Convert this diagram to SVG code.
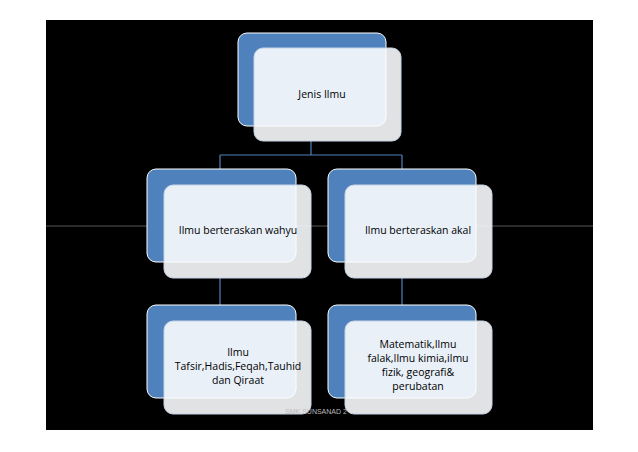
<svg xmlns="http://www.w3.org/2000/svg" width="638" height="452" viewBox="0 0 638 452">
<style>
.b{fill:#4f81bd;stroke:#fff;stroke-width:1}
.f{fill:#fdfeff;fill-opacity:0.89;stroke:#c5d3e6;stroke-width:1}
.t{font-family:"Open Sans","Liberation Sans",sans-serif;font-size:10.5px;fill:#000;text-anchor:middle}
.c{stroke:#4f81bd;stroke-width:1.2;fill:none}
</style>
<rect width="638" height="452" fill="#fff"/>
<rect x="46" y="20" width="547" height="410" fill="#000"/>
<line x1="46" y1="226" x2="593" y2="226" stroke="#555" stroke-width="1"/>
<g id="connectors">
<path class="c" d="M311 141V155M220 155H402M220 155V169M402 155V169M220 278V305M402 278V305"/>
</g>
<g id="n1"><rect class="b" x="238" y="33" width="148" height="93" rx="9"/><rect class="f" x="254" y="48" width="147" height="93" rx="9"/><text class="t" x="322" y="98">Jenis Ilmu</text></g>
<g id="n2"><rect class="b" x="147" y="169" width="149" height="93" rx="9"/><rect class="f" x="164" y="185" width="147" height="93" rx="9"/><text class="t" x="238" y="234">Ilmu berteraskan wahyu</text></g>
<g id="n3"><rect class="b" x="328" y="169" width="148" height="93" rx="9"/><rect class="f" x="345" y="185" width="147" height="93" rx="9"/><text class="t" x="418" y="234">Ilmu berteraskan akal</text></g>
<g id="n4"><rect class="b" x="147" y="305" width="149" height="93" rx="9"/><rect class="f" x="164" y="321" width="147" height="93" rx="9"/><text class="t" x="238" y="356">Ilmu</text><text class="t" x="238" y="370">Tafsir,Hadis,Feqah,Tauhid</text><text class="t" x="238" y="384">dan Qiraat</text></g>
<g id="n5"><rect class="b" x="328" y="305" width="148" height="93" rx="9"/><rect class="f" x="345" y="321" width="147" height="93" rx="9"/><text class="t" x="418" y="348">Matematik,Ilmu</text><text class="t" x="418" y="362">falak,Ilmu kimia,ilmu</text><text class="t" x="418" y="376">fizik, geografi&amp;</text><text class="t" x="418" y="390">perubatan</text></g>
<text x="316" y="414" font-family="Liberation Sans,sans-serif" font-size="7" fill="#bbb" text-anchor="middle">SMK SUNSANAD 2</text>
</svg>
